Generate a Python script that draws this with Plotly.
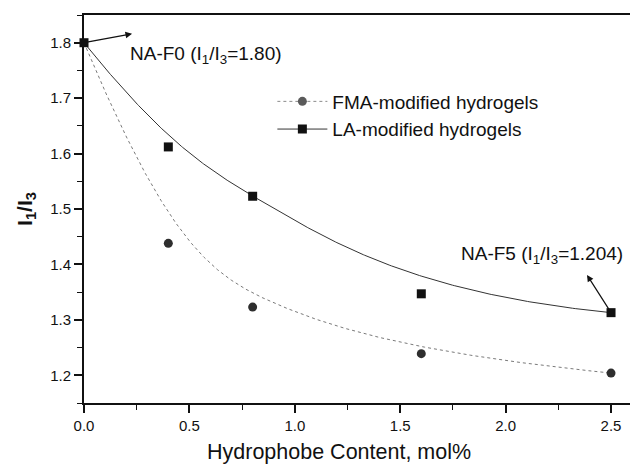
import numpy as np
import plotly.graph_objects as go

# Hydrophobe content (mol%) and I1/I3 pyrene ratios
content = [0.0, 0.4, 0.8, 1.6, 2.5]
fma_ratio = [1.80, 1.438, 1.323, 1.239, 1.204]
la_ratio = [1.80, 1.612, 1.523, 1.347, 1.313]

x_ticks = [0.0, 0.5, 1.0, 1.5, 2.0, 2.5]
y_ticks = [1.2, 1.3, 1.4, 1.5, 1.6, 1.7, 1.8]


def bspline_curve(px, py, degree=3, n=400):
    """Clamped uniform B-spline that uses the data points as control points
    (a smooth connecting line that starts and ends on the end points)."""
    P = np.column_stack([px, py]).astype(float)
    m = len(P)
    k = min(degree, m - 1)
    inner = np.linspace(0, 1, m - k + 1)[1:-1]
    knots = np.concatenate([np.zeros(k + 1), inner, np.ones(k + 1)])
    u = np.linspace(0, 1, n)
    u[-1] -= 1e-12

    # Cox-de Boor recursion
    N = np.zeros((n, len(knots) - 1))
    for i in range(len(knots) - 1):
        N[:, i] = (u >= knots[i]) & (u < knots[i + 1])
    for d in range(1, k + 1):
        Nn = np.zeros((n, len(knots) - 1 - d))
        for i in range(len(knots) - 1 - d):
            left = knots[i + d] - knots[i]
            right = knots[i + d + 1] - knots[i + 1]
            t1 = (u - knots[i]) / left * N[:, i] if left > 0 else 0
            t2 = (knots[i + d + 1] - u) / right * N[:, i + 1] if right > 0 else 0
            Nn[:, i] = t1 + t2
        N = Nn
    C = N @ P
    return C[:, 0], C[:, 1]


fma_cx, fma_cy = bspline_curve(content, fma_ratio)
la_cx, la_cy = bspline_curve(content, la_ratio)

font = "Liberation Sans, Arial, Helvetica, sans-serif"
ink = "#111111"
fig = go.Figure()

# smooth connecting lines
fig.add_trace(go.Scatter(x=fma_cx, y=fma_cy, mode="lines",
                         line=dict(color="#7a7a7a", width=1, dash="dot"),
                         showlegend=False, hoverinfo="skip"))
fig.add_trace(go.Scatter(x=la_cx, y=la_cy, mode="lines",
                         line=dict(color="#333333", width=1),
                         showlegend=False, hoverinfo="skip"))

# measured points
fig.add_trace(go.Scatter(x=content[1:], y=fma_ratio[1:], mode="markers",
                         marker=dict(symbol="circle", size=9, color="#2e2e2e"),
                         showlegend=False, cliponaxis=False))
fig.add_trace(go.Scatter(x=content, y=la_ratio, mode="markers",
                         marker=dict(symbol="square", size=9, color=ink),
                         showlegend=False, cliponaxis=False))

# legend entries
fig.add_trace(go.Scatter(x=[None], y=[None], mode="lines+markers",
                         name="FMA-modified hydrogels",
                         line=dict(color="#8a8a8a", width=1, dash="dot"),
                         marker=dict(symbol="circle", size=9, color="#5a5a5a")))
fig.add_trace(go.Scatter(x=[None], y=[None], mode="lines+markers",
                         name="LA-modified hydrogels",
                         line=dict(color="#333333", width=1),
                         marker=dict(symbol="square", size=9, color=ink)))

# arrows from the labelled samples
fig.add_annotation(x=0.228, y=1.816, ax=content[0], ay=la_ratio[0],
                   xref="x", yref="y", axref="x", ayref="y", text="",
                   showarrow=True, arrowhead=2, arrowsize=1.1, arrowwidth=1.2,
                   arrowcolor=ink, standoff=0, startstandoff=0)
fig.add_annotation(x=2.386, y=1.381, ax=content[-1], ay=la_ratio[-1],
                   xref="x", yref="y", axref="x", ayref="y", text="",
                   showarrow=True, arrowhead=2, arrowsize=1.1, arrowwidth=1.2,
                   arrowcolor=ink, standoff=0, startstandoff=0)

fig.add_annotation(x=0.209, y=1.778, xref="x", yref="y", xanchor="left",
                   yanchor="middle", showarrow=False,
                   text="NA-F0 (I<sub>1</sub>/I<sub>3</sub>=%.2f)" % fma_ratio[0],
                   font=dict(family=font, size=19, color=ink))
fig.add_annotation(x=1.779, y=1.417, xref="x", yref="y", xanchor="left",
                   yanchor="middle", showarrow=False,
                   text="NA-F5 (I<sub>1</sub>/I<sub>3</sub>=%.3f)" % fma_ratio[-1],
                   font=dict(family=font, size=19, color=ink))

# x axis title
fig.add_annotation(x=(339 - 84) / 546, y=-0.126, xref="paper", yref="paper",
                   xanchor="center", yanchor="middle", showarrow=False,
                   text="Hydrophobe Content, mol%",
                   font=dict(family=font, size=21.5, color=ink))

fig.update_layout(
    width=630, height=468,
    margin=dict(l=84, r=0, t=15, b=65),
    paper_bgcolor="white", plot_bgcolor="white",
    font=dict(family=font, color=ink),
    legend=dict(x=0.345, y=0.826, xanchor="left", yanchor="top",
                bgcolor="rgba(0,0,0,0)", font=dict(family=font, size=19),
                itemwidth=50, tracegroupgap=0),
    showlegend=True,
)

fig.update_xaxes(
    range=[0.0, 2.59], tickvals=x_ticks, ticktext=["%.1f" % v for v in x_ticks],
    showgrid=False, zeroline=False, showline=True, linecolor=ink,
    linewidth=2, mirror=True, ticks="outside", ticklen=8, tickwidth=1.5,
    tickcolor=ink, tickfont=dict(family=font, size=15),
    minor=dict(dtick=0.25, tick0=0, ticks="outside", ticklen=5,
               tickwidth=1.2, tickcolor=ink),
)
fig.update_yaxes(
    range=[1.15, 1.85], tickvals=y_ticks, ticktext=["%.1f" % v for v in y_ticks],
    showgrid=False, zeroline=False, showline=True, linecolor=ink,
    linewidth=2, ticks="outside", ticklen=8, tickwidth=1.5,
    tickcolor=ink, tickfont=dict(family=font, size=15),
    minor=dict(dtick=0.05, tick0=0, ticks="outside", ticklen=5,
               tickwidth=1.2, tickcolor=ink),
    title=dict(text="<b>I<sub>1</sub>/I<sub>3</sub></b>", standoff=12,
               font=dict(family=font, size=21)),
)

fig.write_html("out.html")
